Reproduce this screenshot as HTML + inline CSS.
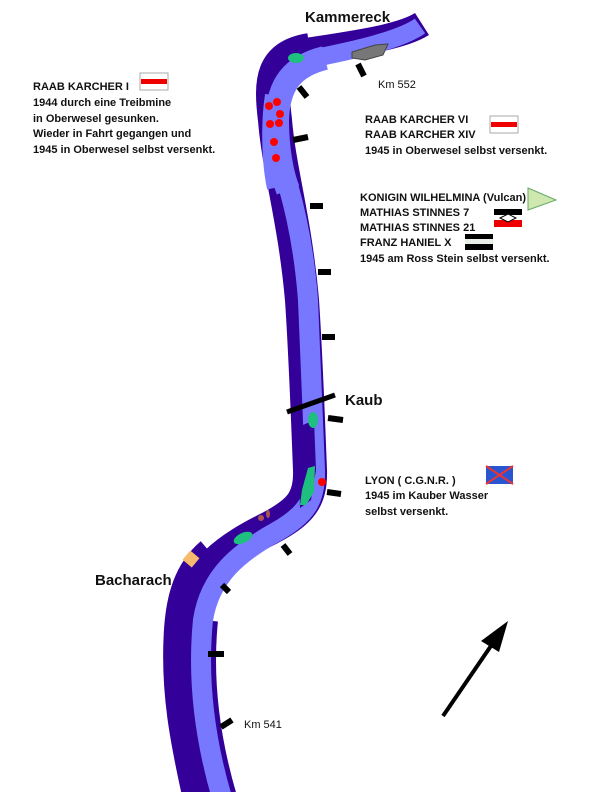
<!DOCTYPE html>
<html><head><meta charset="utf-8"><style>
html,body{margin:0;padding:0;background:#fff;}
svg{display:block}
text{font-family:"Liberation Sans",Arial,sans-serif;font-weight:bold;fill:#111}
.s{font-size:11px}
.b{font-size:15px}
</style></head><body>
<svg width="600" height="800" viewBox="0 0 600 800">
<g fill="none" stroke-linecap="butt">
<path stroke="#330099" stroke-width="26" d="M422,24 C400,38 350,44 300,52"/>
<path stroke="#330099" stroke-width="34" d="M310,50 C272,56 270,80 275,120 C279,170 295,220 302,300 C306,360 308,420 310,470 C311,500 300,512 270,528 C230,548 195,570 187,620 C180,680 190,740 203,798"/>
<path stroke="#330099" stroke-width="44" d="M215,558 C195,575 188,600 186,630 C182,690 192,740 205,798"/>
<path stroke="#330099" stroke-width="30" d="M203,620 C197,680 205,740 222,798"/>
<path stroke="#7878ff" stroke-width="18" d="M420,26 C400,40 355,50 315,58"/>
<path stroke="#7878ff" stroke-width="24" d="M325,58 C292,66 278,85 277,120 C277,150 282,175 288,190"/>
<path stroke="#7878ff" stroke-width="14" d="M272,95 C268,120 268,160 274,188"/>
<path stroke="#7878ff" stroke-width="20" d="M288,185 C298,220 305,260 308,300 C311,360 313,420 315,470 C316,500 306,515 276,532 C240,552 210,575 203,620 C197,680 205,740 222,798"/>
</g>
<rect x="150" y="792" width="150" height="10" fill="#fff"/>
<path fill="#330099" d="M303,425 L314,420 L316,470 L311,500 L300,508 L299,470 Z"/>
<path fill="#777" stroke="#444" d="M352,52 L375,45 L388,44 L383,55 L365,60 L352,58 Z"/>
<ellipse cx="296" cy="58" rx="8" ry="5" fill="#1fbf80"/>
<ellipse cx="313" cy="420" rx="5" ry="8" fill="#1fbf80"/>
<path fill="#1fbf80" d="M308,468 L315,466 L314,492 L306,505 L300,505 L302,490 Z"/>
<ellipse cx="243" cy="538" rx="10" ry="5" fill="#1fbf80" transform="rotate(-25 243 538)"/>
<ellipse cx="268" cy="514" rx="2" ry="4" fill="#a55"/>
<ellipse cx="261" cy="518" rx="3" ry="3" fill="#a55"/>
<rect x="185" y="553" width="12" height="12" fill="#f6bb6e" transform="rotate(40 191 559)"/>
<g fill="#f00">
<circle cx="269" cy="106" r="4"/><circle cx="277" cy="102" r="4"/><circle cx="280" cy="114" r="4"/>
<circle cx="270" cy="124" r="4"/><circle cx="279" cy="123" r="4"/><circle cx="274" cy="142" r="4"/>
<circle cx="276" cy="158" r="4"/><circle cx="322" cy="482" r="4"/>
</g>
<g stroke="#000" stroke-width="6">
<line x1="358" y1="64" x2="364" y2="76"/>
<line x1="299" y1="87" x2="307" y2="97"/>
<line x1="293" y1="140" x2="308" y2="137"/>
<line x1="310" y1="206" x2="323" y2="206"/>
<line x1="318" y1="272" x2="331" y2="272"/>
<line x1="322" y1="337" x2="335" y2="337"/>
<line x1="287" y1="412" x2="335" y2="395" stroke-width="5"/>
<line x1="328" y1="418" x2="343" y2="420"/>
<line x1="327" y1="492" x2="341" y2="494"/>
<line x1="283" y1="545" x2="290" y2="554"/>
<line x1="222" y1="585" x2="229" y2="592"/>
<line x1="208" y1="654" x2="224" y2="654"/>
<line x1="221" y1="727" x2="232" y2="720"/>
</g>
<line x1="443" y1="716" x2="495" y2="640" stroke="#000" stroke-width="4"/>
<path d="M508,621 L481,641 L499,652 Z" fill="#000"/>
<text class="b" x="305" y="22">Kammereck</text>
<text class="s" x="378" y="88" style="font-weight:normal">Km 552</text>
<text class="b" x="345" y="405">Kaub</text>
<text class="b" x="95" y="585">Bacharach</text>
<text class="s" x="244" y="728" style="font-weight:normal">Km 541</text>
<text class="s" x="33" y="90">RAAB KARCHER I</text>
<text class="s" x="33" y="106">1944 durch eine Treibmine</text>
<text class="s" x="33" y="122">in Oberwesel  gesunken.</text>
<text class="s" x="33" y="137">Wieder in Fahrt gegangen und</text>
<text class="s" x="33" y="153">1945 in Oberwesel selbst versenkt.</text>
<rect x="140" y="73" width="28" height="17" fill="#fff" stroke="#aaa"/>
<rect x="141" y="79" width="26" height="5" fill="#e00"/>
<text class="s" x="365" y="123">RAAB KARCHER VI</text>
<text class="s" x="365" y="138">RAAB KARCHER XIV</text>
<text class="s" x="365" y="154">1945 in Oberwesel selbst versenkt.</text>
<rect x="490" y="116" width="28" height="17" fill="#fff" stroke="#aaa"/>
<rect x="491" y="122" width="26" height="5" fill="#e00"/>
<text class="s" x="360" y="201">KONIGIN WILHELMINA   (Vulcan)</text>
<text class="s" x="360" y="216">MATHIAS STINNES 7</text>
<text class="s" x="360" y="231">MATHIAS STINNES 21</text>
<text class="s" x="360" y="246">FRANZ HANIEL X</text>
<text class="s" x="360" y="262">1945 am Ross Stein selbst versenkt.</text>
<path d="M528,188 L556,200 L528,210 Z" fill="#cfe8b0" stroke="#6a6"/>
<rect x="494" y="209" width="28" height="6" fill="#000"/>
<rect x="494" y="215" width="28" height="5" fill="#fff"/>
<rect x="494" y="220" width="28" height="7" fill="#e00"/>
<path d="M500,218 L508,214 L516,218 L508,222 Z" fill="#fff" stroke="#000"/>
<rect x="465" y="234" width="28" height="5" fill="#000"/>
<rect x="465" y="239" width="28" height="5" fill="#e8f0e8"/>
<rect x="465" y="244" width="28" height="6" fill="#000"/>
<text class="s" x="365" y="484">LYON  ( C.G.N.R. )</text>
<text class="s" x="365" y="499">1945 im Kauber Wasser</text>
<text class="s" x="365" y="515">selbst versenkt.</text>
<rect x="486" y="466" width="27" height="18" fill="#2a55d0"/>
<line x1="486" y1="466" x2="513" y2="484" stroke="#e33" stroke-width="2"/>
<line x1="513" y1="466" x2="486" y2="484" stroke="#e33" stroke-width="2"/>
</svg>
</body></html>
